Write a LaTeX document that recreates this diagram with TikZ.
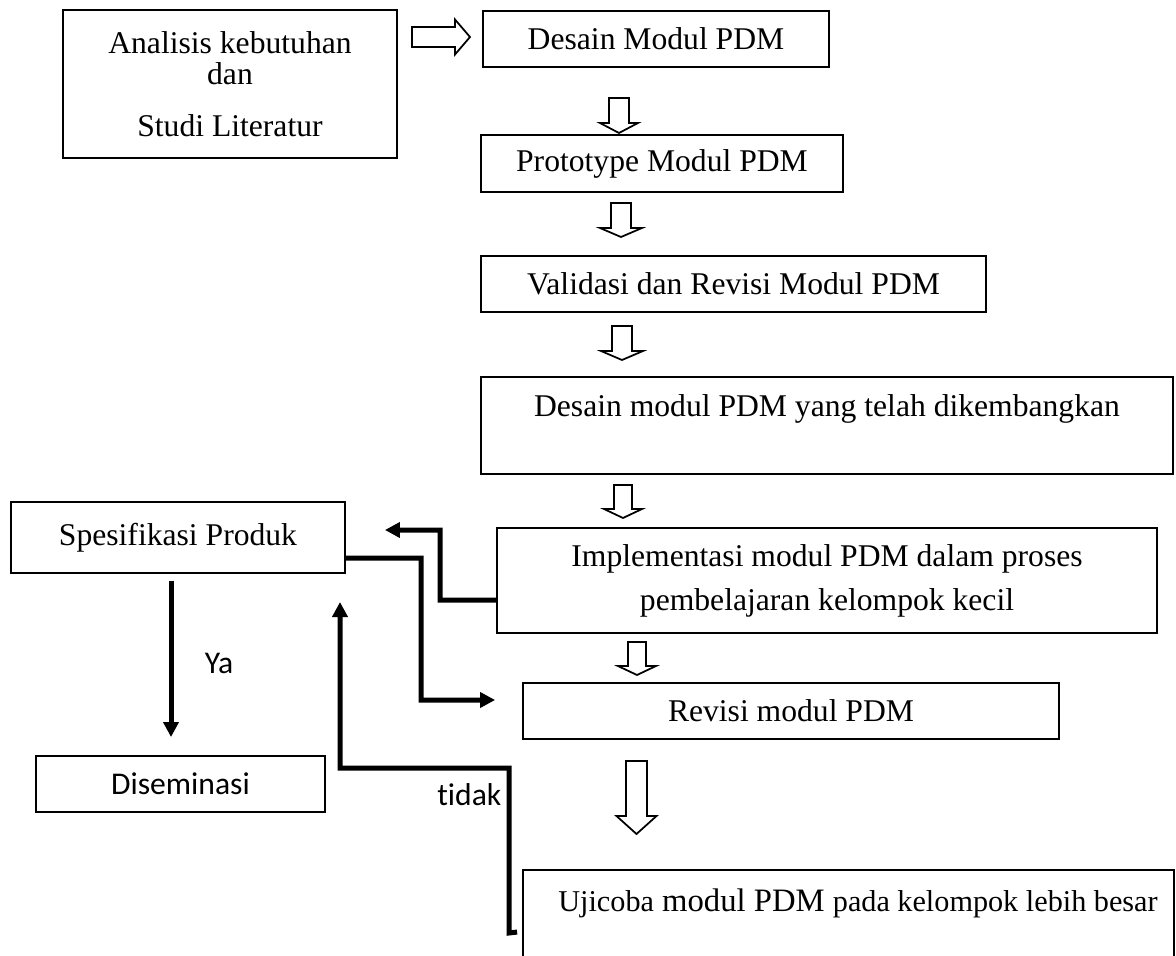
\documentclass[tikz,border=0pt]{standalone}
\usepackage{fontspec}
\setmainfont{Liberation Serif}
\newfontfamily\calibri[Ligatures=NoCommon]{Carlito}
\usetikzlibrary{calc,arrows.meta}
\newcommand{\hdown}[6]{%
  \draw[hollow] (#1-#5,#2) -- (#1+#5,#2) -- (#1+#5,#3) -- (#1+#6,#3) -- (#1,#4) -- (#1-#6,#3) -- (#1-#5,#3) -- cycle;}
\begin{document}
\begin{tikzpicture}[x=0.02cm,y=-0.02cm,
  box/.style={draw, line width=1.1pt, inner sep=0pt, align=center, font=\fontsize{18}{22}\selectfont},
  hollow/.style={draw, line width=1pt, fill=white, line join=miter},
  thickarrow/.style={line width=0.1cm, line join=miter, -{Triangle[length=0.3cm,width=0.3cm]}},
  lbl/.style={font=\calibri\fontsize{18}{22}\selectfont, inner sep=0pt}
]
\useasboundingbox (0,0) rectangle (1176,956);

\node[box, minimum width=6.68cm, minimum height=2.96cm, font=\fontsize{18}{17.6}\selectfont] (ana) at (230,84)
  {Analisis kebutuhan\\dan\\[11.9pt]Studi Literatur};
\node[box, minimum width=6.92cm, minimum height=1.12cm] (des) at (656,39) {Desain Modul PDM};
\node[box, minimum width=7.24cm, minimum height=1.14cm] (pro) at (662,163.5) {Prototype Modul PDM};
\node[box, minimum width=10.10cm, minimum height=1.12cm] (val) at (733.5,284) {Validasi dan Revisi Modul PDM};
\node[box, minimum width=13.84cm, minimum height=1.94cm, text height=12.3pt, text depth=23.1pt] (dk) at (827,425.5) {Desain modul PDM yang telah dikembangkan};
\node[box, minimum width=13.2cm, minimum height=2.1cm, font=\fontsize{18}{25}\selectfont] (imp) at (827,580.5)
  {Implementasi modul PDM dalam proses\\pembelajaran kelompok kecil};
\node[box, minimum width=6.68cm, minimum height=1.42cm] (spe) at (178,537.5) {Spesifikasi Produk};
\node[box, minimum width=10.72cm, minimum height=1.12cm] (rev) at (791,711) {Revisi modul PDM};
\node[box, minimum width=5.78cm, minimum height=1.12cm, font=\calibri\fontsize{18}{22}\selectfont] (dis) at (180.5,784) {Diseminasi};
\node[box, minimum width=13.02cm, minimum height=2.4cm] (uji) at (848.5,930) {};
\node[inner sep=0pt, font=\fontsize{18.6}{22}\selectfont] (ujit) at (858,903)
  {{\fontsize{17.2}{20}\selectfont Ujicoba} modul PDM {\fontsize{17.2}{20}\selectfont pada kelompok lebih besar}};

% hollow block arrows
\draw[hollow] (412,27) -- (455,27) -- (455,19.5) -- (470,37) -- (455,54.5) -- (455,47) -- (412,47) -- cycle;
\hdown{619}{98}{123}{133}{10}{19}
\hdown{621}{203}{228}{237}{10}{21}
\hdown{622}{326}{351}{360}{10}{21}
\hdown{623}{485}{509}{518}{9}{19}
\hdown{637}{642}{666}{675}{9}{19}
\hdown{636.5}{761}{816}{834}{10.5}{20}

% thick connectors
\draw[thickarrow] ($(spe.east)+(0,20.5)$) -- (421,558) -- (421,700) -- ($(rev.west)+(-27,-11)$);
\draw[thickarrow] ($(imp.west)+(0,19.5)$) -- (440,600) -- (440,530) -- ($(spe.east)+(39,-7.5)$);
\draw[thickarrow] ($(spe.south)+(-7,7)$) -- ($(dis.north)+(-9.5,-18)$);
\draw[thickarrow] ($(uji.north west)+(-5,63)$) -- (509,933) -- (509,768) -- (340,768) -- (340,602);

\node[lbl] (ya) at (219,663.5) {Ya};
\node[lbl, anchor=west] (tidak) at (437,795) {tidak};
\end{tikzpicture}
\end{document}
